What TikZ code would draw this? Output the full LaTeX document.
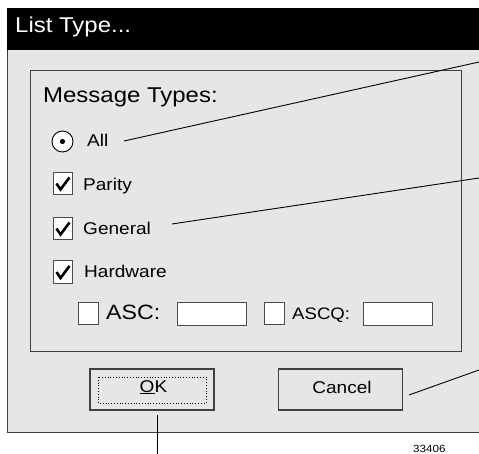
\documentclass[tikz,border=0pt]{standalone}
\usepackage{fontspec}
\newfontfamily\ui[FakeStretch=1.12]{Liberation Sans}
\definecolor{dlg}{HTML}{E6E6E6}
\begin{document}
\begin{tikzpicture}[x=1pt,y=-1pt,
  txt/.style={inner sep=0pt, anchor=base west, font=\ui\fontsize{17}{20}\selectfont},
  bigtxt/.style={txt, font=\ui\fontsize{21.4}{24}\selectfont},
  cbox/.style={draw=black!70, line width=0.7pt, fill=white, minimum width=19.5pt, minimum height=22.5pt, inner sep=0pt},
  field/.style={draw=black!70, line width=0.7pt, fill=white, minimum width=69pt, minimum height=23pt, inner sep=0pt},
  btn/.style={draw=black!75, line width=1.3pt, fill=dlg, minimum width=124pt, minimum height=41pt, inner sep=0pt},
  tick/.style={draw=black, line width=2.6pt, line join=miter, line cap=butt},
  leader/.style={draw=black, line width=0.9pt},
  frame/.style={draw=black!75, line width=1pt}]
\useasboundingbox (0,0) rectangle (479,454);
% dialog
\fill[dlg] (7,50) rectangle (479,432);
\draw[frame] (7,50) -- (7,432) -- (479,432);
\fill[black] (7,8) rectangle (479,50);
\node[bigtxt, text=white] (title) at (15,33) {List Type...};
% group box
\node[frame, minimum width=431pt, minimum height=280pt, inner sep=0pt] (group) at (245.5,211) {};
\node[bigtxt] (msg) at (43,103) {Message Types:};
% radio
\node[draw=black, line width=0.9pt, fill=white, circle, minimum size=21pt, inner sep=0pt] (radio) at (62.5,141.5) {};
\fill[black] (radio.center) circle (2.6);
\node[txt] (all) at (87,147) {All};
% check boxes
\node[cbox] (cpar) at (63,183.5) {};
\node[cbox] (cgen) at (63,228.5) {};
\node[cbox] (chw) at (63,272) {};
\foreach \b in {cpar,cgen,chw}{
  \draw[tick] ([shift={(-6.5,0)}]\b.center) -- ([shift={(-2.5,6)}]\b.center) -- ([shift={(6.5,-6)}]\b.center);
}
\node[txt] (parity) at (83,191) {Parity};
\node[txt] (general) at (83,235) {General};
\node[txt] (hardware) at (84,278) {Hardware};
% ASC row
\node[cbox] (casc) at (88.5,313.5) {};
\node[txt, font=\ui\fontsize{20.7}{24}\selectfont] (asc) at (106,319.5) {ASC:};
\node[field] (fasc) at (211.5,313.5) {};
\node[cbox] (cascq) at (274.5,313.5) {};
\node[txt, font=\ui\fontsize{16.6}{20}\selectfont] (ascq) at (292,319.5) {ASCQ:};
\node[field] (fascq) at (398,313.5) {};
% buttons
\node[btn] (ok) at (152,389.5) {};
\draw[black, line width=0.8pt, dotted] (98,377) rectangle (206,403);
\node[txt, anchor=base] (oktxt) at (153.5,392) {\underline{O}K};
\node[btn] (cancel) at (340.5,389.5) {};
\node[txt, anchor=base] (canceltxt) at (342,393) {Cancel};
% leader lines
\coordinate (allA) at (124,141);
\coordinate (allB) at (479,62);
\coordinate (genA) at (172,224);
\coordinate (genB) at (479,178);
\coordinate (canA) at (409,395);
\coordinate (canB) at (479,370);
\coordinate (okA) at (157,415);
\coordinate (okB) at (157,454);
\draw[leader] (allA) -- (allB);
\draw[leader] (genA) -- (genB);
\draw[leader] (canA) -- (canB);
\draw[leader] (okA) -- (okB);
\node[txt, font=\ui\fontsize{10.4}{12}\selectfont] (fig) at (413,452) {33406};
\end{tikzpicture}
\end{document}
